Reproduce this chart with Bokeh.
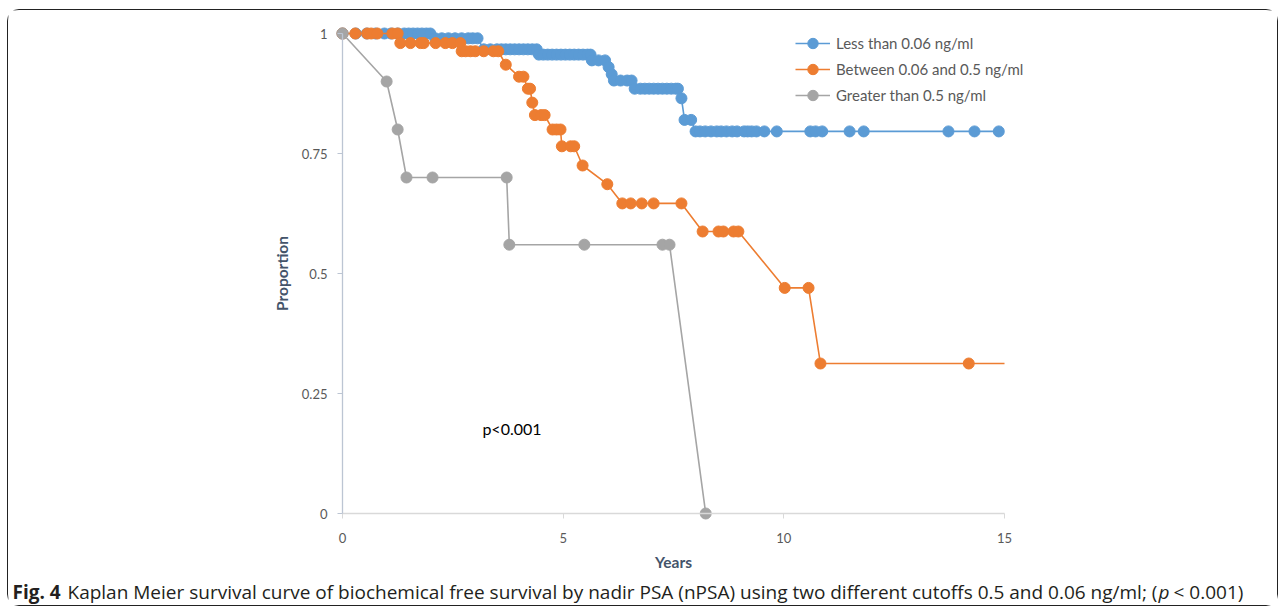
from bokeh.plotting import figure
from bokeh.models import Range1d, FixedTicker, Legend, LegendItem, Label
from bokeh.embed import file_html
from bokeh.resources import INLINE

# ---------------- data ----------------
blue_x = [0, 0.3, 0.55, 0.75, 0.95, 1.1, 1.25, 1.4, 1.5, 1.6, 1.7, 1.8, 1.9, 1.99,
          2.1, 2.25, 2.4, 2.55, 2.7, 2.85, 2.95, 3.06,
          3.2, 3.35, 3.5, 3.6, 3.7, 3.8, 3.9, 4.0, 4.1, 4.2, 4.3, 4.4,
          4.45, 4.55, 4.65, 4.75, 4.85, 4.95, 5.05, 5.15, 5.25, 5.35, 5.45, 5.55, 5.62,
          5.65, 5.8, 5.95, 6.03, 6.1,
          6.15, 6.3, 6.45, 6.55,
          6.62, 6.75, 6.85, 6.95, 7.05, 7.15, 7.25, 7.35, 7.45, 7.55, 7.6,
          7.68, 7.75, 7.9,
          8.0, 8.1, 8.22, 8.35, 8.48, 8.58, 8.7, 8.83, 8.94, 9.1, 9.18, 9.27, 9.38, 9.56, 9.84,
          10.6, 10.72, 10.87, 11.49, 11.81, 13.73, 14.32, 14.87]
blue_y = ([1.0] * 14 + [0.99] * 8 + [0.967] * 12 + [0.956] * 13 + [0.944] * 3 + [0.93, 0.915]
          + [0.902] * 4 + [0.885] * 11 + [0.865, 0.82, 0.82] + [0.796] * 23)

orange_x = [0, 0.29, 0.56, 0.65, 0.79, 1.13, 1.25,
            1.31, 1.54, 1.77, 1.84, 2.11, 2.33, 2.49, 2.67,
            2.7, 2.79, 2.9, 3.01, 3.2, 3.42, 3.53,
            3.7, 4.0, 4.1, 4.2, 4.25, 4.3, 4.36, 4.5, 4.58, 4.76, 4.85, 4.94,
            4.97, 5.17, 5.25, 5.44, 6.0, 6.34, 6.53, 6.78, 7.05, 7.68,
            8.16, 8.52, 8.63, 8.86, 8.97, 10.02, 10.56, 10.83, 14.19]
orange_y = ([1.0] * 7 + [0.98] * 8 + [0.963] * 7 + [0.935, 0.91, 0.91, 0.885, 0.885, 0.856,
            0.83, 0.83, 0.83, 0.8, 0.8, 0.8, 0.765, 0.765, 0.765, 0.725, 0.686]
            + [0.646] * 5 + [0.5875] * 5 + [0.47, 0.47, 0.3125, 0.3125])
orange_line_end_x = 15.0

gray_x = [0, 1.0, 1.25, 1.45, 2.04, 3.72, 3.78, 5.48, 7.25, 7.41, 8.23]
gray_y = [1.0, 0.9, 0.8, 0.7, 0.7, 0.7, 0.56, 0.56, 0.56, 0.56, 0.0]

series_names = ["Less than 0.06 ng/ml", "Between 0.06 and 0.5 ng/ml", "Greater than 0.5 ng/ml"]
x_ticks = [0, 5, 10, 15]
y_ticks = [0, 0.25, 0.5, 0.75, 1]
y_tick_labels = ["0", "0.25", "0.5", "0.75", "1"]
p_value_text = "p<0.001"
caption_bold = "Fig. 4"
caption_1 = "Kaplan Meier survival curve of biochemical free survival by nadir PSA (nPSA) using two different cutoffs 0.5 and 0.06 ng/ml; ("
caption_italic = "p"
caption_2 = " < 0.001)"

BLUE = "#5B9BD5"
ORANGE = "#ED7D31"
GRAY = "#A5A5A5"
FONT = "Lato"
CAP_FONT = "Open Sans"

W, H = 1271, 597
# frame covers the whole canvas; data area: x 0..15 -> px 334..996, y 1..0 -> px 23..503
PX_PER_YEAR = 662 / 15
PX_PER_UNIT = 480
x0_px, y1_px, y0_px = 334, 23, 503
x_start = -x0_px / PX_PER_YEAR
x_end = 15 + (W - 996) / PX_PER_YEAR
y_end = 1 + y1_px / PX_PER_UNIT
y_start = -(H - y0_px) / PX_PER_UNIT

p = figure(width=W, height=H, output_backend="svg", toolbar_location=None,
           x_range=Range1d(x_start, x_end), y_range=Range1d(y_start, y_end),
           min_border=0, min_border_left=0, min_border_right=0,
           min_border_top=0, min_border_bottom=0)
p.styles = {"border": "1px solid #222", "border-radius": "12px",
            "margin-left": "7px", "margin-top": "9px"}
p.outline_line_color = None
p.xgrid.visible = False
p.ygrid.visible = False
p.background_fill_color = "white"

# axes
p.xaxis.fixed_location = 0
p.yaxis.fixed_location = 0
p.xaxis.bounds = (0, 15)
p.yaxis.bounds = (0, 1)
p.xaxis.ticker = FixedTicker(ticks=x_ticks)
p.yaxis.ticker = FixedTicker(ticks=y_ticks)
p.yaxis.major_label_overrides = {t: l for t, l in zip(y_ticks, y_tick_labels)}
for ax, col in ((p.xaxis, "#D9D9D9"), (p.yaxis, "#BCC5D3")):
    ax.axis_line_color = col
    ax.axis_line_width = 1.3
    ax.major_tick_line_color = col
    ax.major_tick_out = 5
    ax.major_tick_in = 0
    ax.minor_tick_line_color = None
    ax.major_label_text_font = FONT
    ax.major_label_text_font_size = "13px"
    ax.major_label_text_color = "#595959"
    ax.axis_label_text_font = FONT
    ax.axis_label_text_font_size = "15.5px"
    ax.axis_label_text_font_style = "bold"
    ax.axis_label_text_color = "#44546A"
p.xaxis.major_label_standoff = 14
p.yaxis.major_label_standoff = 10
p.xaxis.axis_label = "Years"
p.yaxis.axis_label = "Proportion"
p.xaxis.axis_label_standoff = 7
p.yaxis.axis_label_standoff = 8

# series
bl = p.line(blue_x, blue_y, line_color=BLUE, line_width=1.6)
bs = p.scatter(blue_x, blue_y, size=11, fill_color=BLUE, line_color=BLUE)
ol = p.line(orange_x + [orange_line_end_x], orange_y + [orange_y[-1]], line_color=ORANGE, line_width=1.6)
os_ = p.scatter(orange_x, orange_y, size=11, fill_color=ORANGE, line_color=ORANGE)
gl = p.line(gray_x, gray_y, line_color=GRAY, line_width=1.6)
gs = p.scatter(gray_x, gray_y, size=11, fill_color=GRAY, line_color=GRAY)

legend = Legend(items=[LegendItem(label=series_names[0], renderers=[bl, bs]),
                       LegendItem(label=series_names[1], renderers=[ol, os_]),
                       LegendItem(label=series_names[2], renderers=[gl, gs])],
                location=(787, 499), glyph_width=35, glyph_height=26, spacing=0,
                label_standoff=6, padding=0, margin=0, border_line_color=None,
                background_fill_alpha=0, label_text_font=FONT, label_text_font_size="15px",
                label_text_color="#595959")
p.add_layout(legend, "center")

p.add_layout(Label(x=3.17, y=0.177, text=p_value_text, text_font=FONT, text_font_size="16px",
                   text_color="#000000", text_baseline="middle"))

# caption (screen units, from the canvas bottom-left)
cap_y = 16
p.add_layout(Label(x=4, y=cap_y, x_units="screen", y_units="screen", text=caption_bold,
                   text_font=CAP_FONT, text_font_size="19px", text_font_style="bold",
                   text_color="#231F20", text_baseline="alphabetic"))
p.add_layout(Label(x=59, y=cap_y, x_units="screen", y_units="screen", text=caption_1,
                   text_font=CAP_FONT, text_font_size="19px", text_color="#231F20",
                   text_baseline="alphabetic"))
p.add_layout(Label(x=1150, y=cap_y, x_units="screen", y_units="screen", text=caption_italic,
                   text_font=CAP_FONT, text_font_size="19px", text_font_style="italic",
                   text_color="#231F20", text_baseline="alphabetic"))
p.add_layout(Label(x=1165, y=cap_y, x_units="screen", y_units="screen", text=caption_2,
                   text_font=CAP_FONT, text_font_size="19px", text_color="#231F20",
                   text_baseline="alphabetic"))

open("out.html", "w").write(file_html(p, INLINE))
